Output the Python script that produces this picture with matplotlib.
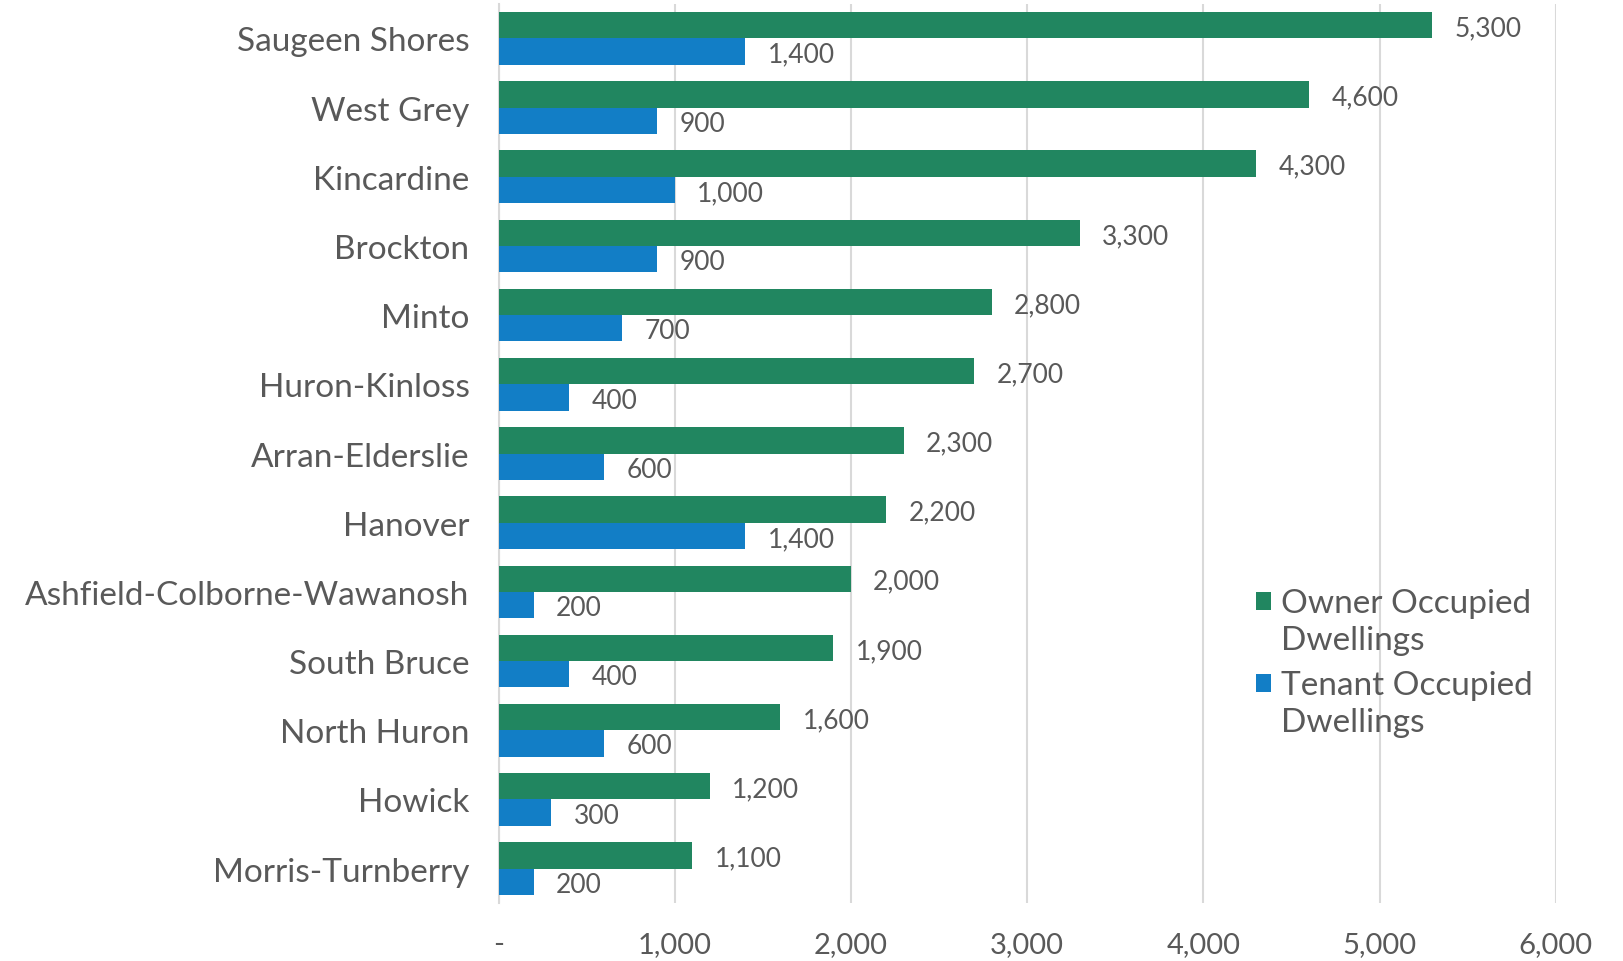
import matplotlib
matplotlib.use('Agg')
import matplotlib.pyplot as plt
import numpy as np

municipios = ['Saugeen Shores', 'West Grey', 'Kincardine', 'Brockton', 'Minto',
              'Huron-Kinloss', 'Arran-Elderslie', 'Hanover', 'Ashfield-Colborne-Wawanosh',
              'South Bruce', 'North Huron', 'Howick', 'Morris-Turnberry']
proprietarios = [5300, 4600, 4300, 3300, 2800, 2700, 2300, 2200, 2000, 1900, 1600, 1200, 1100]
inquilinos = [1400, 900, 1000, 900, 700, 400, 600, 1400, 200, 400, 600, 300, 200]

cor_verde = '#218660'
cor_azul = '#127ec6'
cor_texto = '#595959'
cor_grade = '#d9d9d9'

plt.rcParams['font.family'] = ['Lato', 'DejaVu Sans']

fig = plt.figure(figsize=(16.24, 9.62), dpi=100)
ax = fig.add_axes([0.307, 0.060, 0.651, 0.935])

y = np.arange(len(municipios))
altura = 0.38

barras_v = ax.barh(y - altura / 2, proprietarios, height=altura, color=cor_verde,
                   label='Owner Occupied\nDwellings', zorder=3)
barras_a = ax.barh(y + altura / 2, inquilinos, height=altura, color=cor_azul,
                   label='Tenant Occupied\nDwellings', zorder=3)

# rotulos de valor
for barras in (barras_v, barras_a):
    rotulos = ax.bar_label(barras, labels=[f'{v:,}' for v in barras.datavalues],
                           padding=16, fontsize=19, color=cor_texto)
    for r in rotulos:
        r.set_va('center_baseline')

ax.set_xlim(0, 6000)
ax.set_ylim(len(municipios) - 0.5, -0.5)
ax.set_xticks(range(0, 6001, 1000))
ax.set_xticklabels(['-'] + [f'{v:,}' for v in range(1000, 6001, 1000)])
ax.set_yticks(y)
ax.set_yticklabels(municipios)

ax.tick_params(axis='y', length=0, pad=21, labelsize=24, labelcolor=cor_texto)
ax.tick_params(axis='x', length=0, pad=20, labelsize=21, labelcolor=cor_texto)

ax.grid(axis='x', color=cor_grade, linewidth=1.5, zorder=0)
for lado in ['top', 'right', 'bottom']:
    ax.spines[lado].set_visible(False)
ax.spines['left'].set_color(cor_grade)
ax.spines['left'].set_linewidth(1.5)

fs_leg = 24
leg = ax.legend(loc='upper left', bbox_to_anchor=(0.688, 0.384), frameon=False,
                fontsize=fs_leg, handlelength=0.46, handleheight=0.46, handletextpad=0.3,
                labelspacing=0.45, labelcolor=cor_texto)
for t in leg.get_texts():
    t.set_linespacing(1.3)
# quadradinho alinhado com a primeira linha do texto
for p in leg.get_patches():
    p.set_y(p.get_y() + 0.62 * fs_leg)

fig.savefig('out.png', dpi=100, facecolor='white')
